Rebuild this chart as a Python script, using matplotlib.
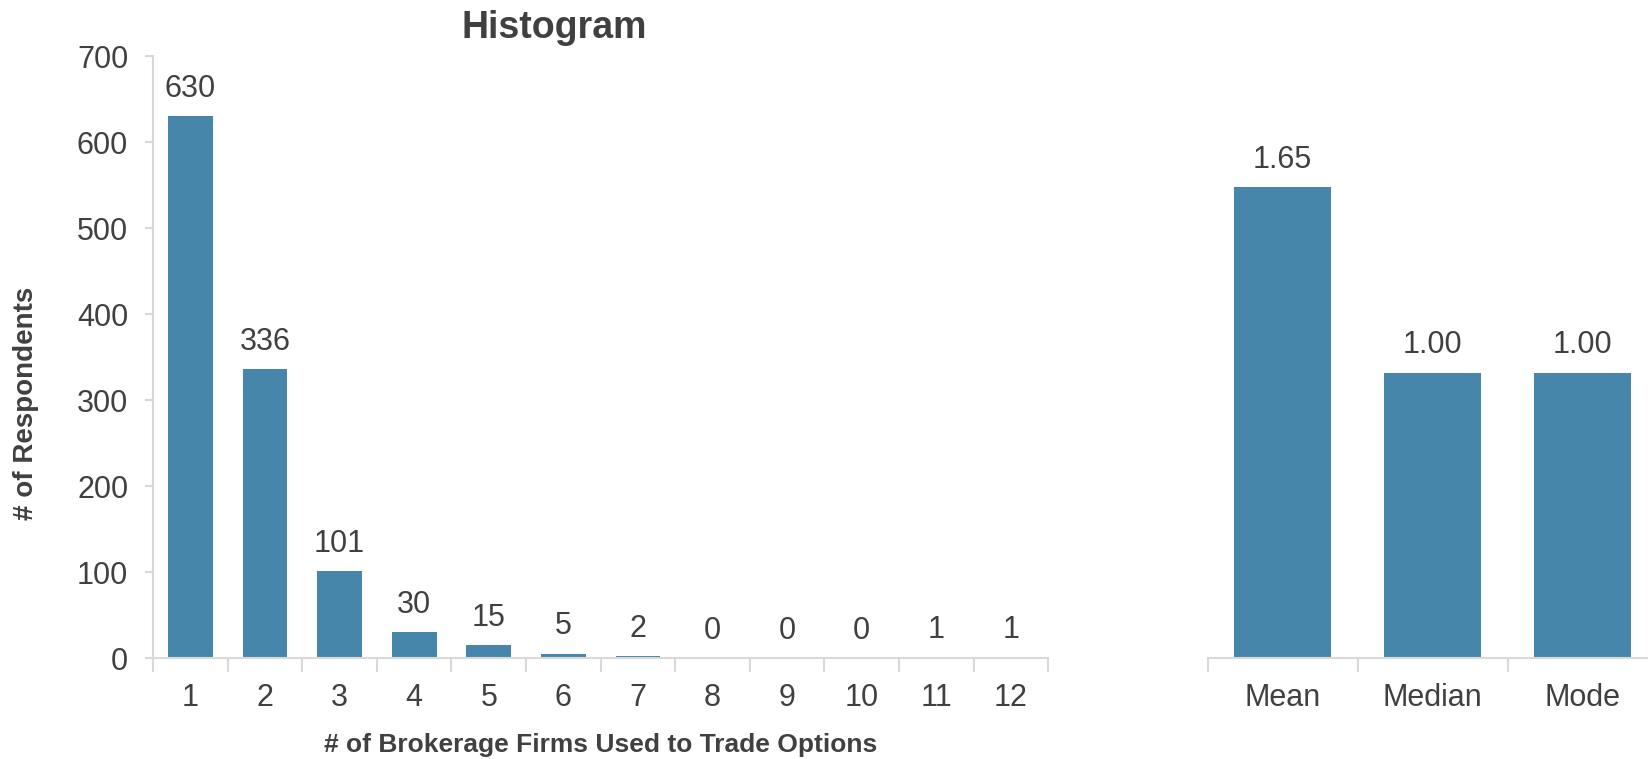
import matplotlib.pyplot as plt
import numpy as np

plt.rcParams['font.family'] = ['Liberation Sans', 'DejaVu Sans']

# data
firms = ['1', '2', '3', '4', '5', '6', '7', '8', '9', '10', '11', '12']
respondents = [630, 336, 101, 30, 15, 5, 2, 0, 0, 0, 1, 1]
stat_names = ['Mean', 'Median', 'Mode']
stat_values = [1.65, 1.00, 1.00]

BAR = '#4786AB'
TXT = '#404040'
GRID = '#D9D9D9'

fig = plt.figure(figsize=(16.49, 7.59), dpi=100)
ax = fig.add_axes([0.0929, 0.133, 0.5427, 0.793])
ax2 = fig.add_axes([0.7324, 0.133, 0.2729, 0.793])


def style(a, n):
    for s in ['top', 'right']:
        a.spines[s].set_visible(False)
    a.spines['bottom'].set_color(GRID)
    a.spines['bottom'].set_linewidth(1.5)
    a.set_xlim(-0.5, n - 0.5)
    a.set_xticks(np.arange(n))
    a.set_xticks(np.arange(n + 1) - 0.5, minor=True)
    a.tick_params(axis='x', which='major', length=0, pad=18, labelsize=22, labelcolor=TXT)
    a.tick_params(axis='x', which='minor', length=10, width=1.5, color=GRID, direction='out')


x = np.arange(len(firms))
ax.bar(x, respondents, width=0.6, color=BAR)
style(ax, len(firms))
ax.set_xticklabels(firms)
ax.set_ylim(0, 700)
ax.set_yticks(range(0, 701, 100))
ax.spines['left'].set_color(GRID)
ax.spines['left'].set_linewidth(1.5)
ax.tick_params(axis='y', length=6, width=1.5, color=GRID, labelsize=22, labelcolor=TXT, pad=12)
for xi, v in zip(x, respondents):
    ax.annotate(str(v), (xi, v), xytext=(0, 9), textcoords='offset points',
                ha='center', va='bottom', fontsize=22, color=TXT)

x2 = np.arange(len(stat_names))
ax2.bar(x2, stat_values, width=0.65, color=BAR)
style(ax2, len(stat_names))
ax2.set_xticklabels(stat_names)
ax2.set_ylim(0, 2.11)
ax2.spines['left'].set_visible(False)
ax2.set_yticks([])
for xi, v in zip(x2, stat_values):
    ax2.annotate(f'{v:.2f}', (xi, v), xytext=(0, 9), textcoords='offset points',
                 ha='center', va='bottom', fontsize=22, color=TXT)

fig.text(0.336, 0.963, 'Histogram', ha='center', va='center', fontsize=27,
         fontweight='bold', color=TXT)
fig.text(0.0155, 0.468, '# of Respondents', rotation=90, ha='center', va='center',
         fontsize=20, fontweight='bold', color=TXT)
fig.text(0.364, 0.018, '# of Brokerage Firms Used to Trade Options', ha='center',
         va='center', fontsize=19, fontweight='bold', color=TXT)

fig.savefig('out.png', dpi=100)
